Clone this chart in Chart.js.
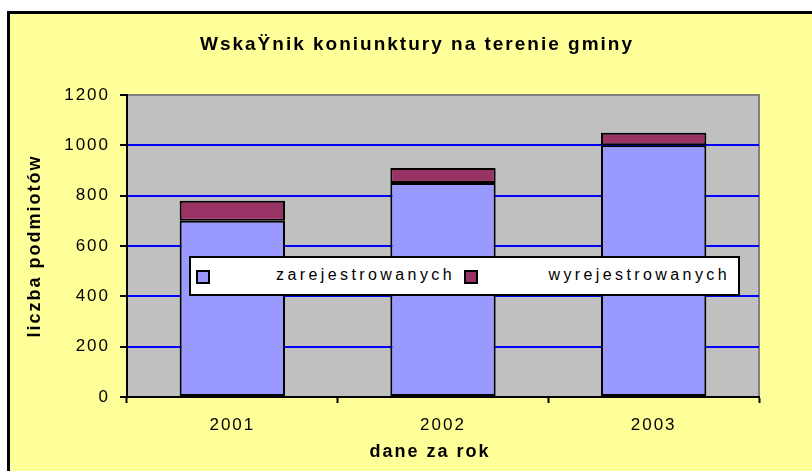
<!DOCTYPE html>
<html lang="pl">
<head>
    <meta charset="UTF-8">
    <title>WskaŸnik koniunktury na terenie gminy</title>
    <style>
        body {
            margin: 0;
            background: #fff;
            width: 812px;
            height: 471px;
            overflow: hidden;
            position: relative;
            font-family: Arial, "Liberation Sans", sans-serif;
        }
        .frame {
            position: absolute;
            left: 7px;
            top: 11px;
            width: 830px;
            height: 490px;
            background: #FFFF99;
            border: 3px solid #000;
            box-sizing: border-box;
        }
        .wrap {
            position: absolute;
            left: 0;
            top: 0;
            width: 812px;
            height: 471px;
        }
        .legend {
            position: absolute;
            left: 189px;
            top: 256px;
            width: 551px;
            height: 40px;
            background: #fff;
            border: 2px solid #000;
            box-sizing: border-box;
        }
        .legend .item {
            position: absolute;
            top: 0;
            height: 36px;
        }
        .legend .box {
            position: absolute;
            left: 0;
            top: 12px;
            width: 10px;
            height: 10px;
            border: 2px solid #000;
        }
        .legend .txt {
            position: absolute;
            right: 0;
            top: 8px;
            font-size: 16px;
            line-height: 18px;
            letter-spacing: 3.4px;
            color: #000;
            white-space: nowrap;
        }
    </style>
</head>
<body>
    <div class="frame"></div>
    <div class="wrap">
        <canvas id="chart" width="812" height="471"></canvas>
    </div>
    <div class="legend" id="legend"></div>

    <script src="https://cdn.jsdelivr.net/npm/chart.js"></script>
    <script>
        // data
        const chartTitle = 'WskaŸnik koniunktury na terenie gminy';
        const xTitle = 'dane za rok';
        const yTitle = 'liczba podmiotów';
        const years = ['2001', '2002', '2003'];
        const seriesNames = ['zarejestrowanych', 'wyrejestrowanych'];
        const registered = [700, 850, 1000];
        const deregistered = [80, 60, 50];
        const seriesColors = ['#9999FF', '#993366'];
        const yMax = 1200;
        const yStep = 200;

        // gray plot area with its gray top/right edge, wide letter spacing,
        // and the chart title / x title placed where the original has them (a bit left of centre)
        const plotBg = {
            id: 'plotBg',
            beforeUpdate(chart) {
                chart.ctx.letterSpacing = '2px';
            },
            beforeDraw(chart) {
                const ctx = chart.ctx;
                const a = chart.chartArea;
                ctx.save();
                ctx.fillStyle = '#C0C0C0';
                ctx.fillRect(a.left, a.top, a.right - a.left, a.bottom - a.top);
                ctx.strokeStyle = '#808080';
                ctx.lineWidth = 2;
                ctx.beginPath();
                ctx.moveTo(a.left, a.top);
                ctx.lineTo(a.right, a.top);
                ctx.lineTo(a.right, a.bottom);
                ctx.stroke();
                ctx.restore();
                ctx.letterSpacing = '2px';
            },
            afterDraw(chart) {
                const ctx = chart.ctx;
                ctx.save();
                ctx.letterSpacing = '2px';
                ctx.fillStyle = '#000';
                ctx.textAlign = 'center';
                ctx.textBaseline = 'middle';
                ctx.font = 'bold 19px Arial';
                ctx.fillText(chartTitle, 417, 45);
                ctx.font = 'bold 18px Arial';
                ctx.fillText(xTitle, 430, 452);
                ctx.restore();
            }
        };

        const tickFont = { family: 'Arial', size: 17 };

        new Chart(document.getElementById('chart'), {
            type: 'bar',
            data: {
                labels: years,
                datasets: [{
                    label: seriesNames[0],
                    data: registered,
                    backgroundColor: seriesColors[0],
                    borderColor: '#000',
                    borderWidth: 2,
                    borderSkipped: false
                }, {
                    label: seriesNames[1],
                    data: deregistered,
                    backgroundColor: seriesColors[1],
                    borderColor: '#000',
                    borderWidth: 2,
                    borderSkipped: false
                }]
            },
            options: {
                responsive: false,
                animation: false,
                layout: { padding: { left: 0, right: 53, top: 95, bottom: 0 } },
                datasets: { bar: { categoryPercentage: 1, barPercentage: 0.5 } },
                plugins: {
                    legend: { display: false },
                    tooltip: { enabled: false },
                    title: { display: false }
                },
                scales: {
                    x: {
                        stacked: true,
                        grid: {
                            display: true,
                            offset: true,
                            drawOnChartArea: false,
                            drawTicks: true,
                            tickLength: 6,
                            tickColor: '#000',
                            tickWidth: 2
                        },
                        border: { display: true, color: '#000', width: 2 },
                        ticks: { color: '#000', font: tickFont, padding: 12 },
                        afterFit(scale) { scale.height = 74; }
                    },
                    y: {
                        stacked: true,
                        min: 0,
                        max: yMax,
                        grid: {
                            color: c => (c.tick && (c.tick.value === 0 || c.tick.value === yMax)) ? 'rgba(0,0,0,0)' : '#0000FF',
                            lineWidth: 2,
                            drawTicks: true,
                            tickLength: 7,
                            tickColor: '#000',
                            tickWidth: 2
                        },
                        border: { display: true, color: '#000', width: 2 },
                        ticks: {
                            stepSize: yStep,
                            color: '#000',
                            font: tickFont,
                            padding: 10,
                            callback: v => String(v)
                        },
                        title: {
                            display: true,
                            text: yTitle,
                            color: '#000',
                            font: { family: 'Arial', size: 18, weight: 'bold' },
                            padding: { top: 24, bottom: 0 }
                        },
                        afterFit(scale) { scale.width = 127; }
                    }
                }
            },
            plugins: [plotBg]
        });

        // legend box laid over the plot, like the original
        const legendItems = [
            { left: 5, width: 259 },
            { left: 273, width: 266 }
        ];
        const legendEl = document.getElementById('legend');
        seriesNames.forEach((name, i) => {
            const item = document.createElement('div');
            item.className = 'item';
            item.style.left = legendItems[i].left + 'px';
            item.style.width = legendItems[i].width + 'px';
            item.innerHTML = '<span class="box" style="background:' + seriesColors[i] + '"></span>' +
                '<span class="txt">' + name + '</span>';
            legendEl.appendChild(item);
        });
    </script>
</body>
</html>
